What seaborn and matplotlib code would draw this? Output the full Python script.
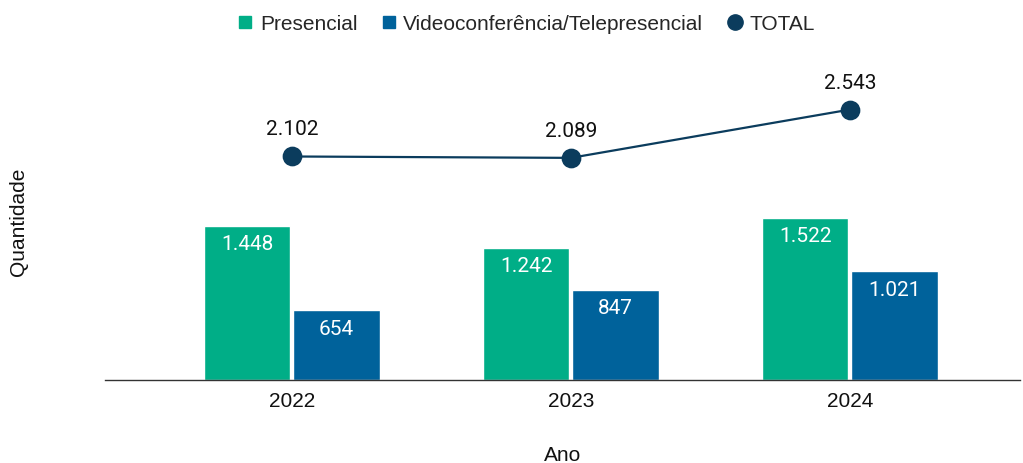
import pandas as pd
import numpy as np
import matplotlib
matplotlib.use('Agg')
import matplotlib.pyplot as plt
import seaborn as sns
from matplotlib.lines import Line2D

years = ['2022', '2023', '2024']
presencial = [1448, 1242, 1522]
video = [654, 847, 1021]
total = [2102, 2089, 2543]

series_names = ['Presencial', 'Videoconferência/Telepresencial']
colors = ['#00AE87', '#00629B']
total_color = '#0B3C5D'
arial = ['Liberation Sans', 'DejaVu Sans']


def fmt(v):
    return f"{v:,}".replace(",", ".")


def main():
    sns.set_theme(style='white')
    plt.rcParams['font.family'] = ['Roboto', 'DejaVu Sans']

    df = pd.DataFrame({
        'Ano': years * 2,
        'Quantidade': presencial + video,
        'Tipo': [series_names[0]] * 3 + [series_names[1]] * 3,
    })

    fig = plt.figure(figsize=(10.23, 4.64), dpi=100)
    ax = fig.add_axes([105 / 1023, 83 / 464, 915 / 1023, 319 / 464])

    sns.barplot(data=df, x='Ano', y='Quantidade', hue='Tipo', palette=colors,
                width=0.64, gap=0.035, saturation=1, legend=False, ax=ax)

    for patch in ax.patches:
        h = patch.get_height()
        if h <= 0:
            continue
        ax.annotate(fmt(int(round(h))), (patch.get_x() + patch.get_width() / 2, h),
                    xytext=(0, -6), textcoords='offset points',
                    ha='center', va='top', color='white', fontsize=15)

    sns.pointplot(x=years, y=total, color=total_color, markers='o',
                  markersize=13, linewidth=1.6, ax=ax)
    for i, v in enumerate(total):
        ax.annotate(fmt(v), (i, v), xytext=(0, 13), textcoords='offset points',
                    ha='center', va='bottom', color='#111111', fontsize=15)

    ax.set_xlim(-0.67, 2.61)
    ax.set_ylim(0, 3000)
    ax.set_yticks([])
    ax.tick_params(axis='x', labelsize=15, colors='#111111', length=0, pad=8)
    for lbl in ax.get_xticklabels():
        lbl.set_family(arial)
    for s in ['top', 'right', 'left']:
        ax.spines[s].set_visible(False)
    ax.spines['bottom'].set_color('#333333')
    ax.spines['bottom'].set_linewidth(1.0)

    ax.set_xlabel('Ano', fontsize=15, color='#111111', family=arial)
    ax.xaxis.set_label_coords(0.5, -0.205)
    ax.set_ylabel('Quantidade', fontsize=15, color='#111111', family=arial)
    ax.yaxis.set_label_coords(-0.084, 0.5)

    handles = [
        Line2D([0], [0], marker='s', linestyle='none', color=colors[0], markersize=8),
        Line2D([0], [0], marker='s', linestyle='none', color=colors[1], markersize=8),
        Line2D([0], [0], marker='o', linestyle='none', color=total_color, markersize=11),
    ]
    fig.legend(handles, series_names + ['TOTAL'], loc='center', bbox_to_anchor=(0.512, 0.947),
               ncol=3, frameon=False, handletextpad=0.1, columnspacing=0.9, handlelength=1.2,
               prop={'family': arial, 'size': 15})

    fig.savefig('out.png', dpi=100)


if __name__ == "__main__":
    main()
